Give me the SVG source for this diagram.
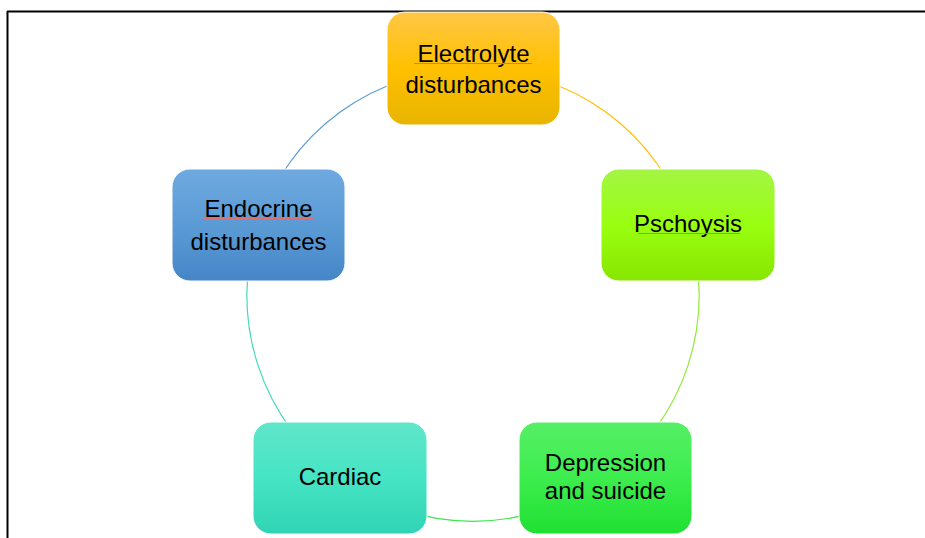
<svg xmlns="http://www.w3.org/2000/svg" width="925" height="538" viewBox="0 0 925 538">
<style>
.node{stroke:#ffffff;stroke-width:1}
.lbl{font-family:"Liberation Sans","Open Sans",sans-serif;font-size:24px;fill:#000;text-anchor:middle}
.arc{fill:none;stroke-width:1.2}
.sp{stroke:#e07070;stroke-width:1;fill:none}
</style>
<defs>
<linearGradient id="gY" x1="0" y1="0" x2="0" y2="1"><stop offset="0" stop-color="#ffc746"/><stop offset="0.5" stop-color="#ffc000"/><stop offset="1" stop-color="#e8b400"/></linearGradient>
<linearGradient id="gL" x1="0" y1="0" x2="0" y2="1"><stop offset="0" stop-color="#a4f545"/><stop offset="0.5" stop-color="#99ff10"/><stop offset="1" stop-color="#88e600"/></linearGradient>
<linearGradient id="gG" x1="0" y1="0" x2="0" y2="1"><stop offset="0" stop-color="#56ef66"/><stop offset="0.5" stop-color="#3ded4e"/><stop offset="1" stop-color="#1fe032"/></linearGradient>
<linearGradient id="gT" x1="0" y1="0" x2="0" y2="1"><stop offset="0" stop-color="#60e6ca"/><stop offset="0.5" stop-color="#45e4c4"/><stop offset="1" stop-color="#30d4b4"/></linearGradient>
<linearGradient id="gB" x1="0" y1="0" x2="0" y2="1"><stop offset="0" stop-color="#6fa9e0"/><stop offset="0.5" stop-color="#5b9bd5"/><stop offset="1" stop-color="#4686c8"/></linearGradient>
</defs>
<rect x="0" y="0" width="925" height="538" fill="#ffffff"/>
<g id="frame" stroke="#000" stroke-width="2">
<line x1="7" y1="11.5" x2="925" y2="11.5"/>
<line x1="7.5" y1="11" x2="7.5" y2="538"/>
</g>
<g id="connectors">
<path class="arc" stroke="#ffc000" d="M473 69 A226 226 0 0 1 688 225"/>
<path class="arc" stroke="#92e83a" d="M688 225 A226 226 0 0 1 606 478"/>
<path class="arc" stroke="#3ce64c" d="M606 478 A226 226 0 0 1 340 478"/>
<path class="arc" stroke="#44d8bc" d="M340 478 A226 226 0 0 1 258 225"/>
<path class="arc" stroke="#5b9bd5" d="M258 225 A226 226 0 0 1 473 69"/>
</g>
<g id="electrolyte">
<rect class="node" x="387" y="12" width="173" height="113" rx="18" fill="url(#gY)"/>
<text class="lbl" x="473.5" y="62">Electrolyte</text>
<text class="lbl" x="473.5" y="93">disturbances</text>
<path class="sp" d="M414 63.5 L532 63.5"/>
</g>
<g id="pschoysis">
<rect class="node" x="601" y="169" width="174" height="112" rx="18" fill="url(#gL)"/>
<text class="lbl" x="688" y="232">Pschoysis</text>
<path class="sp" d="M638 233.5 L740 233.5"/>
</g>
<g id="depression">
<rect class="node" x="519" y="422" width="173" height="112" rx="18" fill="url(#gG)"/>
<text class="lbl" x="605.5" y="471">Depression</text>
<text class="lbl" x="605.5" y="499">and suicide</text>
</g>
<g id="cardiac">
<rect class="node" x="253" y="422" width="174" height="112" rx="18" fill="url(#gT)"/>
<text class="lbl" x="340" y="485">Cardiac</text>
</g>
<g id="endocrine">
<rect class="node" x="172" y="169" width="173" height="112" rx="18" fill="url(#gB)"/>
<text class="lbl" x="258.5" y="217">Endocrine</text>
<text class="lbl" x="258.5" y="250">disturbances</text>
<path class="sp" d="M203 218.5 L314 218.5"/>
</g>
</svg>
